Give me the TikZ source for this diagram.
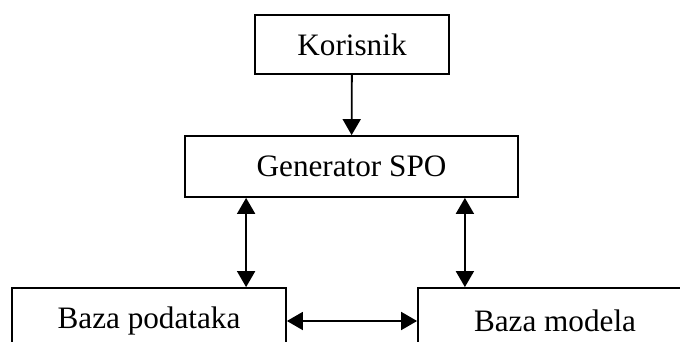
\documentclass[tikz,border=0pt]{standalone}
\usepackage{fontspec}
\setmainfont{Liberation Serif}
\usetikzlibrary{arrows.meta, positioning}

\begin{document}
\begin{tikzpicture}[x=0.5pt, y=-0.5pt, line width=0.9pt,
    >={Triangle[length=8pt, width=9pt]}]
\useasboundingbox (0,0) rectangle (680,342);
\clip (0,0) rectangle (680,342);
\begin{scope}[every node/.style={draw, rectangle, inner sep=0pt, line width=0.9pt,
    font=\fontsize{15.6}{18}\selectfont}]
    \node[minimum width=97pt, minimum height=29.5pt] (kor) at (352,44.5) {Korisnik};
    \node[minimum width=166.5pt, minimum height=30.5pt] (gen) at (351.5,166.5) {Generator SPO};
    \node[minimum width=137pt, minimum height=33pt] (bpod) at (149,321) {Baza podataka};
    \node[minimum width=137pt, minimum height=33pt] (bmod) at (555,321) {Baza modela};
\end{scope}

\draw[->] (kor) -- (gen);
\draw[<->] ([xshift=31pt]gen.south west) -- ([xshift=31pt]gen.south west |- bpod.north);
\draw[<->] ([xshift=-27pt]gen.south east) -- ([xshift=-27pt]gen.south east |- bmod.north);
\draw[<->] (bpod.east) -- (bmod.west);
\end{tikzpicture}
\end{document}
